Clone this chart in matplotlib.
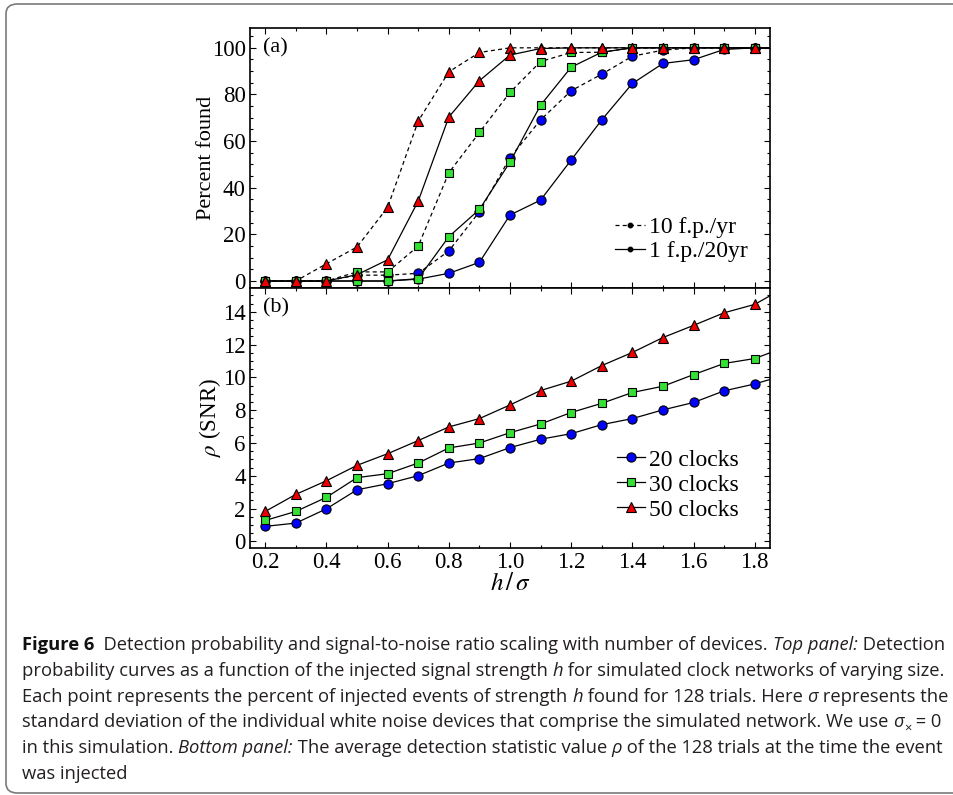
import numpy as np
import matplotlib
matplotlib.use("Agg")
import matplotlib.pyplot as plt
from matplotlib.lines import Line2D
from matplotlib.patches import FancyBboxPatch
from matplotlib.ticker import MultipleLocator

W, H = 954, 795

# injected signal strength h / sigma (last point lies just past the axis edge)
H_SIGMA = [0.2, 0.3, 0.4, 0.5, 0.6, 0.7, 0.8, 0.9, 1.0, 1.1, 1.2, 1.3, 1.4, 1.5, 1.6, 1.7, 1.8, 1.9]

# (a) percent found; fp10 = 10 f.p./yr (dashed), fp20 = 1 f.p./20yr (solid)
FOUND_20_FP10 = [0, 0, 0, 2.5, 2.5, 3.3, 12.9, 29.7, 52.9, 69.1, 81.6, 88.7, 96.4, 99.0, 100, 100, 100, 100]
FOUND_20_FP20 = [0, 0, 0, 0, 0, 0.8, 3.3, 8.0, 28.3, 34.7, 51.9, 69.1, 84.7, 93.3, 94.9, 99.3, 100, 100]
FOUND_30_FP10 = [0, 0, 0, 3.9, 3.9, 15.0, 46.4, 63.7, 80.9, 94.1, 98.0, 98.1, 100, 100, 100, 100, 100, 100]
FOUND_30_FP20 = [0, 0, 0, 0, 0, 1.0, 19.0, 30.7, 51.0, 75.4, 91.7, 98.1, 100, 100, 100, 100, 100, 100]
FOUND_50_FP10 = [0, 0, 7.4, 14.6, 31.6, 68.6, 89.7, 98.0, 100, 100, 100, 100, 100, 100, 100, 100, 100, 100]
FOUND_50_FP20 = [0, 0, 0, 2.7, 9.1, 34.3, 70.3, 85.9, 96.9, 99.7, 100, 100, 100, 100, 100, 100, 100, 100]

# (b) rho (SNR)
SNR_20 = [0.92, 1.12, 1.99, 3.15, 3.52, 4.01, 4.78, 5.05, 5.72, 6.23, 6.57, 7.12, 7.49, 8.02, 8.47, 9.18, 9.60, 10.15]
SNR_30 = [1.28, 1.83, 2.69, 3.89, 4.13, 4.78, 5.70, 6.00, 6.63, 7.16, 7.86, 8.42, 9.08, 9.46, 10.17, 10.85, 11.15, 11.85]
SNR_50 = [1.83, 2.87, 3.70, 4.64, 5.35, 6.15, 6.98, 7.49, 8.32, 9.20, 9.77, 10.72, 11.52, 12.43, 13.17, 13.94, 14.45, 15.50]

CLOCK_LABELS = ["20 clocks", "30 clocks", "50 clocks"]
FP_LABELS = ["10 f.p./yr", "1 f.p./20yr"]

STYLE = [  # color, marker, size
    ("#0000ff", "o", 6.6),
    ("#33e033", "s", 5.6),
    ("#ee0000", "^", 7.4),
]
DASH = (0, (3.2, 2.6))

CAPTION = [
    [("Figure 6", "b"), ("  Detection probability and signal-to-noise ratio scaling with number of devices. ", "n"),
     ("Top panel:", "i"), (" Detection", "n")],
    [("probability curves as a function of the injected signal strength ", "n"), ("h", "i"),
     (" for simulated clock networks of varying size.", "n")],
    [("Each point represents the percent of injected events of strength ", "n"), ("h", "i"),
     (" found for 128 trials. Here ", "n"), ("σ", "i"), (" represents the", "n")],
    [("standard deviation of the individual white noise devices that comprise the simulated network. We use ", "n"),
     ("σ", "i"), ("×", "sub"), (" = 0", "n")],
    [("in this simulation. ", "n"), ("Bottom panel:", "i"), (" The average detection statistic value ", "n"),
     ("ρ", "i"), (" of the 128 trials at the time the event", "n")],
    [("was injected", "n")],
]

plt.rcParams["font.family"] = ["Liberation Serif", "DejaVu Serif"]
plt.rcParams["mathtext.fontset"] = "stix"

fig = plt.figure(figsize=(W / 100, H / 100), dpi=100)

# rounded frame around figure + caption
fig.patches.append(FancyBboxPatch((6 / W, 2 / H), 1.05, (H - 6) / H,
                                  boxstyle="round,pad=0,rounding_size=0.012",
                                  transform=fig.transFigure, fill=False,
                                  ec="#7a7a7a", lw=1.2, clip_on=False))

L, R = 250 / W, 770 / W
ax1 = fig.add_axes([L, 1 - 288 / H, R - L, 260 / H])
ax2 = fig.add_axes([L, 1 - 548 / H, R - L, 260 / H])

x = np.array(H_SIGMA)
top = [(FOUND_20_FP10, FOUND_20_FP20), (FOUND_30_FP10, FOUND_30_FP20), (FOUND_50_FP10, FOUND_50_FP20)]
for (c, m, ms), (fp10, fp20) in zip(STYLE, top):
    ax1.plot(x, fp10, color="k", ls=DASH, lw=0.9, marker=m, ms=ms, mfc=c, mec="k", mew=0.8)
    ax1.plot(x, fp20, color="k", ls="-", lw=0.9, marker=m, ms=ms, mfc=c, mec="k", mew=0.8)

for (c, m, ms), snr, lab in zip(STYLE, [SNR_20, SNR_30, SNR_50], CLOCK_LABELS):
    ax2.plot(x, snr, color="k", lw=0.9, marker=m, ms=ms, mfc=c, mec="k", mew=0.8, label=lab)

for ax in (ax1, ax2):
    ax.set_xlim(0.15, 1.85)
    ax.xaxis.set_major_locator(MultipleLocator(0.2))
    ax.xaxis.set_minor_locator(MultipleLocator(0.1))
    ax.tick_params(which="both", direction="in", top=True, right=True, labelsize=16.5, width=0.8, pad=3)
    ax.tick_params(which="major", length=4.5)
    ax.tick_params(which="minor", length=2.3)
    for s in ax.spines.values():
        s.set_linewidth(1.2)

ax1.set_ylim(-3, 108.5)
ax1.yaxis.set_major_locator(MultipleLocator(20))
ax1.yaxis.set_minor_locator(MultipleLocator(5))
ax1.tick_params(labelbottom=False)
ax1.set_ylabel("Percent found", fontsize=16, labelpad=-3)
ax1.text(0.025, 0.925, "(a)", transform=ax1.transAxes, fontsize=16, ha="left", va="center")

ax2.set_ylim(-0.4, 15.45)
ax2.yaxis.set_major_locator(MultipleLocator(2))
ax2.yaxis.set_minor_locator(MultipleLocator(0.5))
ax2.set_xticks([0.2, 0.4, 0.6, 0.8, 1.0, 1.2, 1.4, 1.6, 1.8])
ax2.set_xticklabels(["0.2", "0.4", "0.6", "0.8", "1.0", "1.2", "1.4", "1.6", "1.8"])
ax2.set_ylabel(r"$\rho$ (SNR)", fontsize=16.5, labelpad=0)
ax2.set_xlabel(r"$h\,/\,\sigma$", fontsize=18, labelpad=0)
ax2.text(0.025, 0.925, "(b)", transform=ax2.transAxes, fontsize=16, ha="left", va="center")

fp_handles = [Line2D([], [], color="k", ls=DASH, lw=0.9, marker="o", ms=3.2),
              Line2D([], [], color="k", ls="-", lw=0.9, marker="o", ms=3.2)]
ax1.legend(fp_handles, FP_LABELS, loc="lower left", bbox_to_anchor=(0.702, 0.1), frameon=False,
           fontsize=17, handlelength=1.27, handletextpad=0.17, labelspacing=0.1, borderpad=0, borderaxespad=0)
ax2.legend(loc="lower left", bbox_to_anchor=(0.705, 0.105), frameon=False,
           fontsize=17, handlelength=1.2, handletextpad=0.17, labelspacing=0.15, borderpad=0, borderaxespad=0)

# ---- caption ----
CAP_FAMILY = ["Open Sans", "DejaVu Sans"]
renderer = fig.canvas.get_renderer()


def run_kw(style, size):
    kw = dict(fontsize=size, color="#231f20", family=CAP_FAMILY)
    if style == "b":
        kw["fontweight"] = "bold"
        kw["color"] = "#111111"
    elif style == "i":
        kw["fontstyle"] = "italic"
    elif style == "sub":
        kw["fontsize"] = size * 0.7
    return kw


def advance(s, kw):
    # advance width of s, spaces included, measured between two bars
    t1 = fig.text(0, 0, "|" + s + "|", **kw)
    t2 = fig.text(0, 0, "||", **kw)
    w = t1.get_window_extent(renderer).width - t2.get_window_extent(renderer).width
    t1.remove()
    t2.remove()
    return w


def draw_line(runs, x0, y0, size, draw=True):
    xpos = x0
    for text, style in runs:
        kw = run_kw(style, size)
        dy = 4 if style == "sub" else 0
        if draw:
            fig.text(xpos / W, 1 - (y0 + dy) / H, text, ha="left", va="baseline", **kw)
        xpos += advance(text, kw)
    return xpos - x0


base = 10.0
w1 = draw_line(CAPTION[0], 22, 650, base, draw=False)
cap_size = base * 928 / w1
for i, runs in enumerate(CAPTION):
    draw_line(runs, 22, 650 + 25.8 * i, cap_size)

fig.savefig("out.png", dpi=100)
